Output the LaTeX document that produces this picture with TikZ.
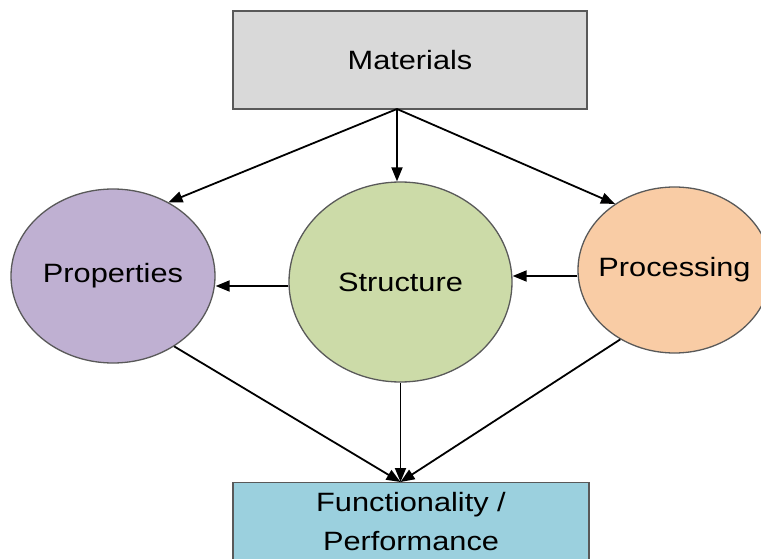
\documentclass[tikz,border=0pt]{standalone}
\usepackage{fontspec}
\setmainfont{Liberation Sans}[FakeStretch=1.16]
\usetikzlibrary{arrows.meta,shapes.geometric}

\definecolor{matfill}{RGB}{217,217,217}
\definecolor{propfill}{RGB}{191,176,210}
\definecolor{strucfill}{RGB}{204,219,168}
\definecolor{procfill}{RGB}{249,204,165}
\definecolor{funcfill}{RGB}{155,208,222}
\definecolor{edgegray}{RGB}{89,89,89}

\tikzset{
  box/.style={draw=edgegray, line width=1.3pt, rectangle, inner sep=0pt},
  oval/.style={draw=edgegray, line width=1.3pt, ellipse, inner sep=0pt},
  arr/.style={-{Triangle[length=14pt,width=11pt]}, line width=1.8pt, black}
}

\begin{document}
\begin{tikzpicture}[x=1pt, y=-1pt, font=\fontsize{26.5}{39}\selectfont]
  \useasboundingbox (0,0) rectangle (761,559);
  % Define nodes
  \node[box, fill=matfill, minimum width=354pt, minimum height=98pt] (mat) at (410,60) {Materials};
  \node[oval, fill=propfill, minimum width=204pt, minimum height=174pt] (prop) at (113,276) {Properties};
  \node[oval, fill=strucfill, minimum width=223pt, minimum height=200pt] (struc) at (400.5,282) {Structure};
  \node[oval, fill=procfill, inner xsep=-30pt, minimum width=193pt, minimum height=166pt] (proc) at (674.5,270) {Processing};
  \node[box, fill=funcfill, anchor=north, minimum width=356pt, inner ysep=10pt, text depth=30pt, align=center] (func) at (411,482) {Functionality /\\Performance};
  \coordinate (msrc) at (397,109);
  \coordinate (fdst) at (struc.south |- func.north);

  % Connect the nodes
  \draw[arr] (msrc) -- (prop.53);
  \draw[arr] (msrc) -- (msrc |- struc.north);
  \draw[arr] (msrc) -- (proc.132);
  \draw[arr] ([yshift=-4pt]struc.west) -- ([yshift=-4pt]struc.west -| prop.east);
  \draw[arr] ([yshift=-6pt]proc.west) -- ([yshift=-6pt]proc.west -| struc.east);
  \draw[arr] (prop.-49) -- (fdst);
  \draw[arr] (struc.south) -- (fdst);
  \draw[arr] (proc.232) -- (fdst);
\end{tikzpicture}
\end{document}
